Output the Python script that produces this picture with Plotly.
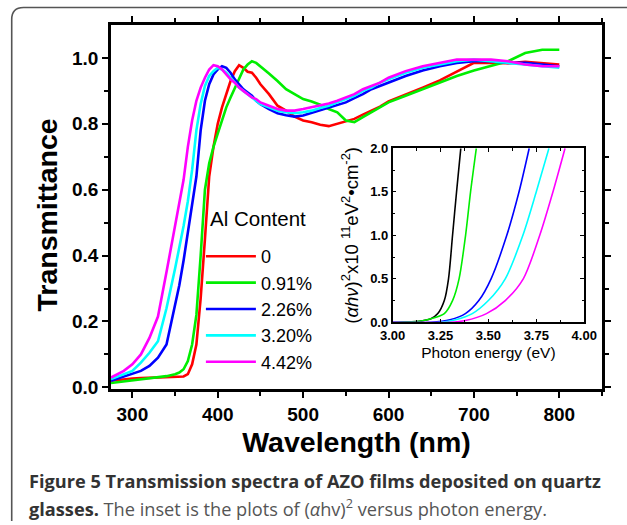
import plotly.graph_objects as go

# ---------------- data ----------------
wavelength = [275, 290, 300, 310, 320, 330, 340, 350, 355, 360, 365, 370, 375, 380, 385, 390,
              395, 400, 405, 410, 415, 420, 425, 430, 435, 440, 445, 450, 460, 470, 480, 490,
              500, 510, 520, 530, 540, 550, 560, 570, 580, 590, 600, 620, 640, 660, 680, 700,
              720, 740, 760, 780, 800]

t_0 = [0.020, 0.025, 0.027, 0.028, 0.029, 0.030, 0.030, 0.030, 0.031, 0.033, 0.040, 0.070,
       0.130, 0.270, 0.450, 0.640, 0.730, 0.800, 0.850, 0.890, 0.930, 0.960, 0.978, 0.970,
       0.958, 0.955, 0.940, 0.920, 0.890, 0.855, 0.840, 0.822, 0.810, 0.805, 0.797, 0.793,
       0.800, 0.808, 0.815, 0.828, 0.840, 0.852, 0.868, 0.888, 0.910, 0.932, 0.958, 0.985,
       0.985, 0.984, 0.988, 0.985, 0.980]
t_091 = [0.013, 0.018, 0.021, 0.024, 0.027, 0.030, 0.034, 0.040, 0.045, 0.055, 0.080, 0.130,
         0.220, 0.400, 0.600, 0.680, 0.730, 0.770, 0.810, 0.850, 0.880, 0.910, 0.940, 0.965,
         0.980, 0.990, 0.985, 0.975, 0.953, 0.930, 0.905, 0.890, 0.875, 0.868, 0.858, 0.845,
         0.835, 0.810, 0.805, 0.820, 0.835, 0.850, 0.865, 0.885, 0.905, 0.925, 0.945, 0.962,
         0.975, 0.990, 1.015, 1.025, 1.025]
t_226 = [0.020, 0.033, 0.040, 0.050, 0.065, 0.090, 0.130, 0.250, 0.310, 0.385, 0.470, 0.550,
         0.640, 0.780, 0.870, 0.920, 0.950, 0.965, 0.975, 0.970, 0.955, 0.935, 0.920, 0.905,
         0.895, 0.885, 0.870, 0.860, 0.845, 0.832, 0.826, 0.822, 0.825, 0.833, 0.840, 0.848,
         0.855, 0.865, 0.878, 0.890, 0.905, 0.915, 0.925, 0.945, 0.962, 0.975, 0.985, 0.990,
         0.990, 0.985, 0.985, 0.980, 0.975]
t_320 = [0.025, 0.040, 0.050, 0.075, 0.105, 0.140, 0.240, 0.360, 0.420, 0.490, 0.565, 0.660,
         0.780, 0.860, 0.915, 0.945, 0.960, 0.970, 0.965, 0.955, 0.940, 0.925, 0.910, 0.900,
         0.890, 0.880, 0.870, 0.860, 0.850, 0.840, 0.835, 0.832, 0.835, 0.840, 0.848, 0.855,
         0.865, 0.875, 0.885, 0.900, 0.910, 0.925, 0.935, 0.955, 0.970, 0.980, 0.990, 0.995,
         0.990, 0.985, 0.980, 0.975, 0.970]
t_442 = [0.030, 0.050, 0.070, 0.100, 0.150, 0.215, 0.350, 0.490, 0.560, 0.630, 0.730, 0.810,
         0.870, 0.910, 0.940, 0.965, 0.978, 0.975, 0.965, 0.950, 0.935, 0.925, 0.910, 0.900,
         0.890, 0.880, 0.875, 0.865, 0.855, 0.845, 0.840, 0.840, 0.845, 0.850, 0.855, 0.862,
         0.870, 0.880, 0.890, 0.905, 0.915, 0.925, 0.940, 0.960, 0.975, 0.985, 0.995, 0.995,
         0.995, 0.990, 0.980, 0.975, 0.975]

series_names = ["0", "0.91%", "2.26%", "3.20%", "4.42%"]
series_values = [t_0, t_091, t_226, t_320, t_442]
colors = ["#ff0000", "#00ee00", "#0000ff", "#00ffff", "#ff00ff"]

# inset: (alpha h nu)^2 vs photon energy
e_0 = [3.00, 3.10, 3.15, 3.20, 3.236, 3.27, 3.292, 3.313, 3.334, 3.356]
a_0 = [0.0, 0.005, 0.015, 0.040, 0.10, 0.25, 0.50, 1.00, 1.50, 2.00]
e_091 = [3.00, 3.10, 3.15, 3.20, 3.27, 3.313, 3.347, 3.381, 3.407, 3.437]
a_091 = [0.0, 0.005, 0.015, 0.040, 0.10, 0.25, 0.50, 1.00, 1.50, 2.00]
e_226 = [3.00, 3.20, 3.30, 3.38, 3.45, 3.514, 3.596, 3.66, 3.713]
a_226 = [0.0, 0.0, 0.03, 0.10, 0.25, 0.50, 1.00, 1.50, 2.00]
e_320 = [3.00, 3.25, 3.33, 3.416, 3.50, 3.588, 3.68, 3.75, 3.816]
a_320 = [0.0, 0.0, 0.03, 0.10, 0.25, 0.50, 1.00, 1.50, 2.00]
e_442 = [3.00, 3.30, 3.38, 3.49, 3.588, 3.682, 3.768, 3.837, 3.90]
a_442 = [0.0, 0.0, 0.02, 0.10, 0.25, 0.50, 1.00, 1.50, 2.00]
inset_x = [e_0, e_091, e_226, e_320, e_442]
inset_y = [a_0, a_091, a_226, a_320, a_442]
inset_colors = ["#000000", "#00ee00", "#0000ff", "#00ffff", "#ff00ff"]

x_ticks = [300, 400, 500, 600, 700, 800]
y_ticks = [0.0, 0.2, 0.4, 0.6, 0.8, 1.0]

# ---------------- figure ----------------
fig = go.Figure()
for name, vals, col in zip(series_names, series_values, colors):
    fig.add_trace(go.Scatter(x=wavelength, y=vals, name=name, mode="lines",
                             line=dict(color=col, width=2.6), xaxis="x", yaxis="y"))
for ex, ay, col in zip(inset_x, inset_y, inset_colors):
    fig.add_trace(go.Scatter(x=ex, y=ay, mode="lines", showlegend=False,
                             line=dict(color=col, width=1.6, shape="spline", smoothing=0.8),
                             xaxis="x2", yaxis="y2"))

L, R, T, B = 111, 19, 25, 136
W, H = 627, 525
pw, ph = W - L - R, H - T - B


def px(xp):
    return (xp - L) / pw


def py(yp):
    return (H - B - yp) / ph


tick_font = dict(family="Arial", size=19, color="black", weight="bold")
fig.update_layout(
    width=W, height=H,
    margin=dict(l=L, r=R, t=T, b=B),
    paper_bgcolor="white", plot_bgcolor="white",
    xaxis=dict(range=[275, 850], tickvals=x_ticks, showline=True, linecolor="black",
               linewidth=2.6, mirror="ticks", ticks="outside", ticklen=6, tickwidth=2.4,
               tickcolor="black", showgrid=False, zeroline=False, tickfont=tick_font,
               minor=dict(tickvals=[350, 450, 550, 650, 750, 850], ticks="outside",
                          ticklen=4, tickwidth=2.4, tickcolor="black"),
               title=dict(text="<b>Wavelength (nm)</b>", standoff=9,
                          font=dict(family="Arial", size=28.5, color="black"))),
    yaxis=dict(range=[-0.005, 1.1], tickvals=y_ticks, tickformat=".1f", showline=True,
               linecolor="black", linewidth=2.6, mirror="ticks", ticks="outside", ticklen=6,
               tickwidth=2.4, tickcolor="black", showgrid=False, zeroline=False,
               tickfont=tick_font,
               minor=dict(tickvals=[0.1, 0.3, 0.5, 0.7, 0.9], ticks="outside", ticklen=4,
                          tickwidth=2.4, tickcolor="black"),
               title=dict(text="<b>Transmittance\u00a0\u00a0</b>", standoff=7,
                          font=dict(family="Arial", size=28.5, color="black"))),
    xaxis2=dict(domain=[px(396), px(590)], anchor="y2", range=[3.0, 4.0], dtick=0.25,
                tick0=3.0, tickformat=".2f", showline=True, linecolor="black", linewidth=1.5,
                mirror="allticks", ticks="inside", ticklen=4, tickwidth=1.3, tickcolor="black",
                showgrid=False, zeroline=False,
                tickfont=dict(family="Arial", size=13, color="black", weight="bold"),
                minor=dict(dtick=0.125, ticks="inside", ticklen=2.5, tickwidth=1.2,
                           tickcolor="black"),
                title=dict(text="Photon energy (eV)", standoff=5,
                           font=dict(family="Arial", size=15.5, color="black"))),
    yaxis2=dict(domain=[py(322.3), py(148.3)], anchor="x2", range=[0, 2.0], dtick=0.5,
                tick0=0, tickformat=".1f", showline=True, linecolor="black", linewidth=1.5,
                mirror="allticks", ticks="inside", ticklen=4, tickwidth=1.3, tickcolor="black",
                showgrid=False, zeroline=False,
                tickfont=dict(family="Arial", size=13, color="black", weight="bold"),
                minor=dict(dtick=0.25, ticks="inside", ticklen=2.5, tickwidth=1.2,
                           tickcolor="black"),
                title=dict(text="(<i>αhν</i>)<sup>2</sup>x10 <sup>11</sup>eV<sup>2</sup>•cm<sup>-2</sup>)",
                           standoff=7, font=dict(family="Arial", size=18.5, color="black"))),
    legend=dict(x=px(202), y=py(238), xanchor="left", yanchor="top",
                bgcolor="rgba(0,0,0,0)", borderwidth=0,
                font=dict(family="Arial", size=18, color="black"),
                tracegroupgap=0, itemwidth=50),
    showlegend=True,
)

# legend heading placed above the legend entries
fig.add_annotation(xref="paper", yref="paper", x=px(209), y=py(218), xanchor="left",
                   yanchor="middle", showarrow=False, text="Al Content",
                   font=dict(family="Arial", size=20.5, color="black"))

# outer rounded frame of the figure panel
fx0, fy0, fyb, rad = 10.5, 7.5, 521, 12
frame_path = (f"M {px(640)},{py(fy0)} L {px(fx0 + rad)},{py(fy0)} "
              f"Q {px(fx0)},{py(fy0)} {px(fx0)},{py(fy0 + rad)} L {px(fx0)},{py(fyb)}")
fig.add_shape(type="path", path=frame_path, xref="paper", yref="paper",
              line=dict(color="#555555", width=1.6), layer="above")

# caption
cap_font = dict(family="Open Sans", size=18.2, color="#333333")
fig.add_annotation(xref="paper", yref="paper", x=px(26), y=py(481), xanchor="left",
                   yanchor="middle", showarrow=False, font=cap_font,
                   text="<b>Figure 5 Transmission spectra of AZO films deposited on quartz</b>")
fig.add_annotation(xref="paper", yref="paper", x=px(26), y=py(507), xanchor="left",
                   yanchor="middle", showarrow=False, font=cap_font,
                   text="<b>glasses.</b><span style='color:#555555'> The inset is the plots of (<i>α</i>hv)<sup>2</sup> versus photon energy.</span>")

fig.write_html("out.html")
